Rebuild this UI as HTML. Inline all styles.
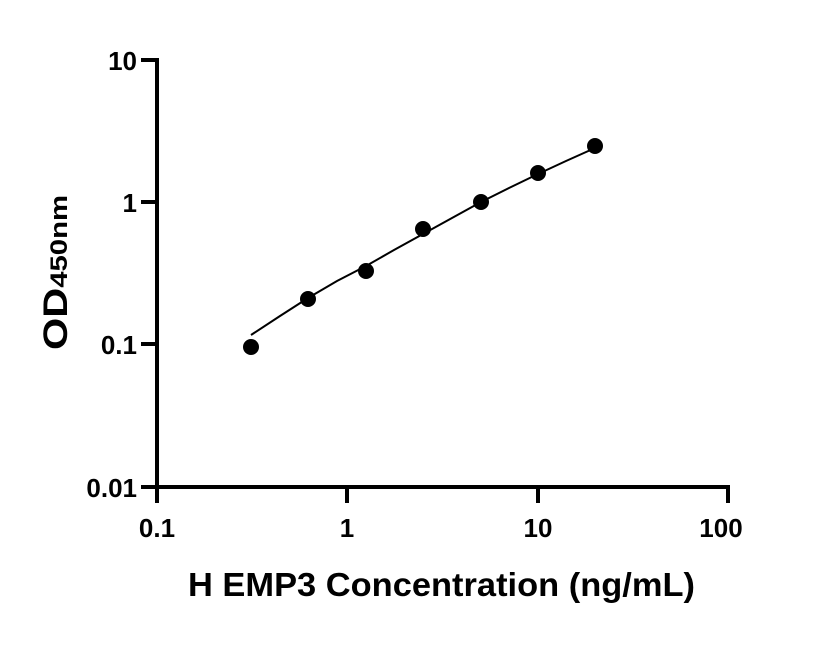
<!DOCTYPE html>
<html><head><style>body{margin:0;background:#fff}</style></head><body>
<svg width="816" height="640" xmlns="http://www.w3.org/2000/svg" font-family="Liberation Sans, sans-serif" font-weight="bold">
<rect width="816" height="640" fill="#fff"/>
<g stroke="#000" stroke-width="4" fill="none">
<line x1="157" y1="58" x2="157" y2="487"/>
<line x1="155" y1="487" x2="730" y2="487"/>
<line x1="141" y1="60" x2="157" y2="60"/>
<line x1="141" y1="202" x2="157" y2="202"/>
<line x1="141" y1="344" x2="157" y2="344"/>
<line x1="141" y1="487" x2="157" y2="487"/>
<line x1="157" y1="487" x2="157" y2="503"/>
<line x1="347" y1="487" x2="347" y2="503"/>
<line x1="538" y1="487" x2="538" y2="503"/>
<line x1="728" y1="487" x2="728" y2="503"/>
</g>
<polyline fill="none" stroke="#000" stroke-width="2" points="251,335 280,316 308,298 337,281 366,266 394,250 423,234 452,218 481,202 509,188 538,174 566,161 595,148"/>
<g fill="#000">
<circle cx="251" cy="347" r="8"/><circle cx="308" cy="299" r="8"/><circle cx="366" cy="271" r="8"/>
<circle cx="423" cy="229" r="8"/><circle cx="481" cy="202" r="8"/><circle cx="538" cy="173" r="8"/><circle cx="595" cy="146" r="8"/>
</g>
<g font-size="26" text-anchor="end">
<text x="137" y="70">10</text><text x="137" y="212">1</text><text x="137" y="354">0.1</text><text x="137" y="497">0.01</text>
</g>
<g font-size="26" text-anchor="middle">
<text x="157" y="537">0.1</text><text x="347" y="537">1</text><text x="538" y="537">10</text><text x="721" y="537">100</text>
</g>
<text x="188" y="596" font-size="33" textLength="507" lengthAdjust="spacingAndGlyphs">H EMP3 Concentration (ng/mL)</text>
<text transform="translate(67,350) rotate(-90)" font-size="34" textLength="155" lengthAdjust="spacingAndGlyphs">OD<tspan font-size="24">450nm</tspan></text>
</svg>
</body></html>
